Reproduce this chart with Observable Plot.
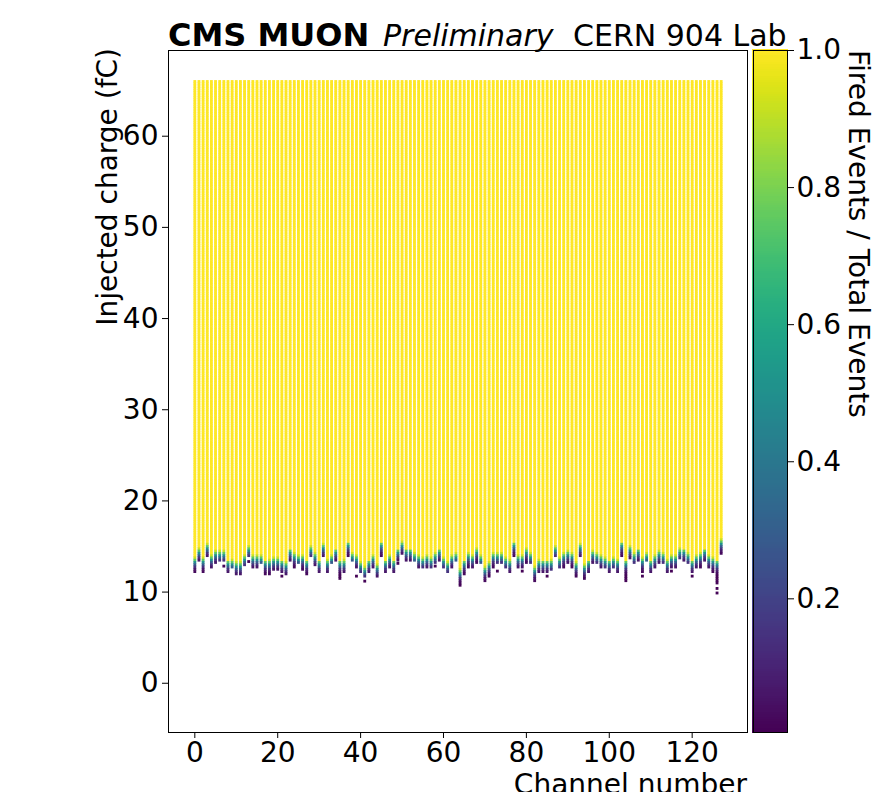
<!DOCTYPE html>
<html><head><meta charset="utf-8">
<script src="https://cdn.jsdelivr.net/npm/d3@7"></script>
<script src="https://cdn.jsdelivr.net/npm/@observablehq/plot@0.6"></script>
<style>
html,body{margin:0;padding:0;background:#fff;}
#wrap{position:relative;width:891px;height:792px;overflow:hidden;font-family:"DejaVu Sans",sans-serif;color:#000;}
#wrap svg{position:absolute;overflow:visible;}
.lbl{position:absolute;white-space:nowrap;font-size:28px;line-height:1;}
</style></head>
<body><div id="wrap"></div>
<script>
// lowest injected charge with any fired events, per channel (fC)
const qMin = [12.2,13.5,12.2,13.85,12.75,13.15,13.3,13.3,12.2,12.75,
11.95,11.95,12.95,13.85,12.75,12.75,13.05,11.95,11.95,12.45,
12.45,12.05,11.95,13.3,12.75,13.15,12.45,11.95,13.85,12.95,
12.2,13.85,12.2,13.15,13.4,11.5,12.05,13.85,13.3,12.75,
12.2,11.65,12.2,12.75,11.65,13.85,12.2,12.75,12.05,13.5,
14.05,13.3,13.3,13.3,12.75,12.6,12.6,12.6,13.15,13.3,
12.6,12.05,12.6,13.3,10.75,11.85,12.6,12.6,13.15,13.15,
11.1,11.65,12.6,13.15,13.15,12.6,12.05,13.85,12.75,12.75,
13.15,13.15,11.1,12.05,12.05,12.2,12.4,13.85,12.6,12.6,
13.15,12.75,11.65,13.85,11.5,12.05,13.15,13.15,12.6,12.6,
12.05,12.6,12.05,13.85,11.1,13.65,13.15,13.3,12.2,13.3,
12.05,12.75,13.15,13.15,12.05,12.75,12.75,13.65,13.3,13.15,
12.2,12.75,12.75,13.3,12.75,12.2,10.95,14.2];
// charge where efficiency reaches 1.0, per channel (fC)
const qFull = [13.85,14.95,13.85,15.4,14.05,14.6,14.6,14.6,13.5,13.65,
13.3,13.3,14.2,15.05,14.05,14.05,14.2,13.5,13.65,13.85,
13.85,13.5,13.3,14.75,14.4,14.2,14.05,13.5,15.15,14.4,
13.5,15.3,13.55,14.2,14.75,13.5,13.65,15.5,14.4,14.2,
13.3,12.95,13.5,14.2,13.15,15.5,13.5,14.2,13.5,14.75,
15.7,14.75,14.75,14.4,14.05,13.85,14.05,13.85,14.4,14.75,
13.85,13.3,14.05,14.4,12.6,13.5,14.4,14.2,14.95,14.2,
12.95,13.3,14.4,14.4,14.4,13.85,13.65,15.5,14.2,14.2,
14.95,14.4,12.95,13.65,13.5,13.5,13.65,15.15,13.85,14.4,
14.6,14.4,13.3,15.3,13.15,13.5,14.6,14.4,14.05,13.85,
13.5,13.85,13.65,15.5,13.5,15.15,14.4,14.75,13.85,14.4,
13.5,14.05,14.6,14.4,13.65,14.05,14.05,14.95,14.75,14.4,
13.5,14.2,14.4,14.75,14.2,13.85,13.5,15.85];
// fraction of fired events in the steps just below full efficiency
const turnOn = [0.92,0.75,0.5,0.3,0.15,0.07,0.03];
const tailFraction = 0.015;
// isolated low-charge hits
const strayCh = [7,13,21,39,41,49,58,73,79,85,108,115,120,126,126];
const strayQ = [12.85,13.35,11.75,11.75,11.2,13.15,12.85,12.3,12.3,11.75,11.75,12.3,11.75,10.4,9.9];
const qMax = 66, qStep = 0.25;
const yTicks = [0,10,20,30,40,50,60];
const xTicks = [0,20,40,60,80,100,120];
const cbTicks = [0.2,0.4,0.6,0.8,1.0];

const points = [];
for (let ch = 0; ch < qMin.length; ch++) {
  for (let k = 0; ; k++) {
    const q = qMax - k * qStep;
    if (q < qMin[ch] - 1e-9) break;
    let f;
    if (q >= qFull[ch] - 1e-9) f = 1;
    else {
      const idx = Math.floor((qFull[ch] - q) / qStep + 1e-9);
      f = idx < turnOn.length ? turnOn[idx] : tailFraction;
    }
    points.push({ch, q, f});
  }
}
strayCh.forEach((ch, i) => points.push({ch, q: strayQ[i], f: tailFraction}));
points.sort((a, b) => b.f - a.f);

const colorDomain = [0.005, 1];
const font = {fontFamily: "DejaVu Sans", fontSize: "28px", background: "transparent", color: "#000"};
const wrap = document.getElementById("wrap");

const main = Plot.plot({
  width: 891, height: 792,
  marginTop: 50, marginBottom: 60, marginLeft: 168, marginRight: 144,
  style: font,
  x: {domain: [-6.35, 133.35], ticks: xTicks, tickSize: 6, tickPadding: 4, label: null},
  y: {domain: [-5.4, 69.4], ticks: yTicks, tickSize: 6, tickPadding: 4, label: null},
  color: {type: "linear", scheme: "viridis", domain: colorDomain},
  marks: [
    Plot.dot(points, {x: "ch", y: "q", fill: "f", symbol: "square", r: 1.6}),
    Plot.frame({stroke: "#000", strokeWidth: 1})
  ]
});
main.style.left = "0px"; main.style.top = "0px";
wrap.appendChild(main);

const steps = d3.range(0, 300);
const stepVal = i => colorDomain[0] + (colorDomain[1] - colorDomain[0]) * (i + 0.5) / steps.length;
const cb = Plot.plot({
  width: 138, height: 792,
  marginTop: 50, marginBottom: 60, marginLeft: 0, marginRight: 104,
  style: font,
  x: {domain: [0, 1], axis: null},
  y: {domain: colorDomain, ticks: cbTicks, tickFormat: d3.format(".1f"), tickSize: 6, tickPadding: 3, label: null},
  color: {type: "linear", scheme: "viridis", domain: colorDomain},
  marks: [
    Plot.rect(steps, {
      x1: 0, x2: 1,
      y1: i => colorDomain[0] + (colorDomain[1] - colorDomain[0]) * i / steps.length,
      y2: i => Math.min(colorDomain[1], colorDomain[0] + (colorDomain[1] - colorDomain[0]) * (i + 1) / steps.length),
      fill: stepVal, stroke: stepVal, strokeWidth: 1.2, shapeRendering: "crispEdges"
    }),
    Plot.axisY({anchor: "right", ticks: cbTicks, tickFormat: d3.format(".1f"), tickSize: 6, tickPadding: 3, label: null}),
    Plot.frame({stroke: "#000", strokeWidth: 1})
  ]
});
cb.style.left = "753px"; cb.style.top = "0px";
wrap.appendChild(cb);

function addText(html, css) {
  const d = document.createElement("div");
  d.className = "lbl";
  d.innerHTML = html;
  Object.assign(d.style, css);
  wrap.appendChild(d);
  return d;
}
addText("CMS MUON", {left: "168px", top: "19px", fontSize: "32px", fontWeight: "bold"});
addText("Preliminary", {left: "383px", top: "21px", fontSize: "30px", fontStyle: "italic"});
addText("CERN 904 Lab", {left: "573px", top: "21px", fontSize: "30px"});
addText("Injected charge (fC)", {left: "94px", top: "48px", transformOrigin: "0 0", transform: "rotate(-90deg) translateX(-100%)"});
addText("Fired Events / Total Events", {left: "872px", top: "50px", transformOrigin: "0 0", transform: "rotate(90deg)"});
addText("Channel number", {left: "747px", top: "771px", transform: "translateX(-100%)"});
</script>
</body></html>
